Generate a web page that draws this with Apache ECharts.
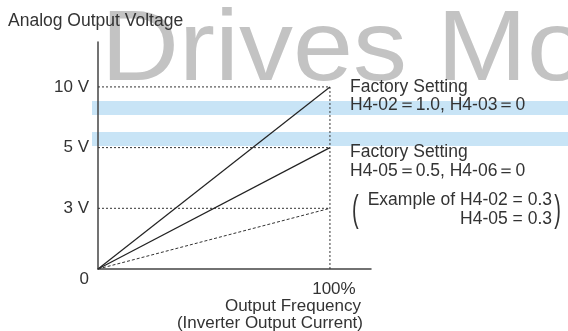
<!DOCTYPE html>
<html>
<head>
<meta charset="utf-8">
<script src="https://cdn.jsdelivr.net/npm/echarts@6/dist/echarts.min.js"></script>
<style>
html,body{margin:0;padding:0;background:#fff;}
#c{width:568px;height:331px;}
</style>
</head>
<body>
<div id="c"></div>
<script>
// ---- data ----
const yTickLabels = ['0', '3 V', '5 V', '10 V'];   // schematic (evenly spaced) voltage levels
const yLevels = [0, 3, 5, 10];                       // volts for each tick
const xPercent = [0, 100];                           // output frequency / current, %
const volts10 = [0, 10];   // H4-02=1.0, H4-03=0
const volts5  = [0, 5];    // H4-05=0.5, H4-06=0
const volts3  = [0, 3];    // example H4-02 = 0.3
const guideLevels = [10, 5, 3];

const FONT = 'Liberation Sans';
const TXT = '#333';
const lvl = v => yLevels.indexOf(v);
const pts = arr => arr.map((v, i) => [xPercent[i], lvl(v)]);

const guideSeries = guideLevels.map(v => {
  const d = [[xPercent[0], lvl(v)], [xPercent[1], lvl(v)]];
  if (v === guideLevels[0]) d.push([xPercent[1], lvl(0)]);
  return {
    type: 'line', data: d, symbol: 'none', silent: true, z: 3,
    lineStyle: {color: '#333', width: 1, type: [2, 2]}
  };
});

const ann = (x, y, text, align) => ({
  type: 'text', z: 50, x: x, y: y,
  style: {text: text, fill: TXT, font: '17.5px "Liberation Sans"', textAlign: align || 'left', textVerticalAlign: 'middle'}
});

const chart = echarts.init(document.getElementById('c'), null, {renderer: 'canvas'});
chart.setOption({
  animation: false,
  backgroundColor: '#fff',
  grid: {left: 98, right: 197, top: 42, bottom: 62},
  xAxis: {
    type: 'value', min: 0, max: 117.7, interval: 100,
    axisLine: {show: true, lineStyle: {color: '#444', width: 1.5}},
    axisTick: {show: false}, splitLine: {show: false},
    axisLabel: {
      margin: 12, color: TXT, fontFamily: FONT, fontSize: 17,
      formatter: v => (v === 100 ? '100%' : ''),
      padding: [0, 0, 0, 8]
    }
  },
  yAxis: {
    type: 'value', min: 0, max: 3.74, interval: 1,
    axisLine: {show: true, lineStyle: {color: '#444', width: 1.5}},
    axisTick: {show: false}, splitLine: {show: false},
    axisLabel: {
      margin: 9, color: TXT, fontFamily: FONT, fontSize: 17,
      formatter: v => {
        const s = yTickLabels[v];
        if (s === undefined) return '';
        return v === 0 ? '{z|' + s + '}' : s;
      },
      rich: {z: {color: TXT, fontFamily: FONT, fontSize: 17, padding: [21, 0, 0, 4]}}
    }
  },
  graphic: [
    {type: 'text', z: -10, x: 101, y: 2, scaleX: 1.08,
      style: {text: 'Drives Mot', fill: '#c3c3c3', font: '100px "Liberation Sans"'}},
    {type: 'rect', z: -5, shape: {x: 92, y: 101, width: 476, height: 14}, style: {fill: '#c8e4f6'}},
    {type: 'rect', z: -5, shape: {x: 92, y: 132, width: 476, height: 14}, style: {fill: '#c8e4f6'}},
    {type: 'text', z: 50, x: 8, y: 21,
      style: {text: 'Analog Output Voltage', fill: TXT, font: '17.5px "Liberation Sans"', textVerticalAlign: 'middle'}},
    ann(350, 87, 'Factory Setting'),
    ann(350, 105, 'H4-02＝1.0, H4-03＝0'),
    ann(350, 152, 'Factory Setting'),
    ann(350, 171, 'H4-05＝0.5, H4-06＝0'),
    ann(552, 200, 'Example of H4-02 = 0.3', 'right'),
    ann(552, 219, 'H4-05 = 0.3', 'right'),
    {type: 'text', z: 50, x: 352, y: 211, scaleY: 1.85,
      style: {text: '(', fill: TXT, font: '20px "Liberation Sans"', textVerticalAlign: 'middle'}},
    {type: 'text', z: 50, x: 561, y: 211, scaleY: 1.85,
      style: {text: ')', fill: TXT, font: '20px "Liberation Sans"', textAlign: 'right', textVerticalAlign: 'middle'}},
    {type: 'text', z: 50, x: 361, y: 306,
      style: {text: 'Output Frequency', fill: TXT, font: '17px "Liberation Sans"', textAlign: 'right', textVerticalAlign: 'middle'}},
    {type: 'text', z: 50, x: 363, y: 323,
      style: {text: '(Inverter Output Current)', fill: TXT, font: '17px "Liberation Sans"', textAlign: 'right', textVerticalAlign: 'middle'}}
  ],
  series: [
    ...guideSeries,
    {type: 'line', name: 'H4-02=1.0', data: pts(volts10), symbol: 'none', z: 4,
      lineStyle: {color: '#222', width: 1.2}},
    {type: 'line', name: 'H4-05=0.5', data: pts(volts5), symbol: 'none', z: 4,
      lineStyle: {color: '#222', width: 1.2}},
    {type: 'line', name: 'H4-02=0.3', data: pts(volts3), symbol: 'none', z: 4,
      lineStyle: {color: '#333', width: 1, type: [3, 2]}}
  ]
});
</script>
</body>
</html>
